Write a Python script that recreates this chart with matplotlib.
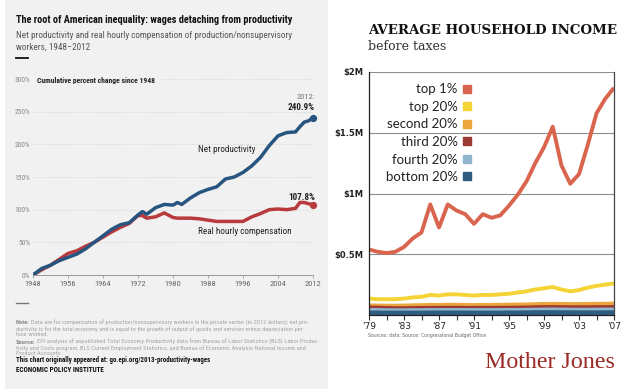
import matplotlib.pyplot as plt
from matplotlib.patches import Rectangle
from matplotlib.lines import Line2D

# ---- left chart data (EPI: cumulative % change since 1948) ----
years_l = [1948, 1950, 1952, 1954, 1956, 1958, 1960, 1962, 1964, 1966, 1968, 1970,
           1972, 1973, 1974, 1976, 1978, 1980, 1981, 1982, 1984, 1986, 1988, 1990,
           1992, 1994, 1996, 1998, 2000, 2002, 2004, 2006, 2008, 2009, 2010, 2011, 2012]
productivity = [0, 10, 15, 22, 27, 32, 40, 50, 60, 70, 77, 80,
                92, 97, 93, 103, 108, 107, 111, 108, 118, 126, 131, 135,
                147, 150, 157, 167, 180, 198, 213, 218, 219, 227, 234, 236, 240.9]
compensation = [0, 8, 15, 24, 33, 37, 44, 50, 58, 66, 73, 79,
                91, 91, 87, 89, 95, 88, 87, 87, 87, 86, 84, 82,
                82, 82, 82, 89, 94, 100, 101, 100, 102, 111, 111, 109, 107.8]
xticks_l = [1948, 1956, 1964, 1972, 1980, 1988, 1996, 2004, 2012]
yticks_l = [0, 50, 100, 150, 200, 250, 300]

# ---- right chart data (CBO: average household income, $M) ----
years_r = list(range(1979, 2008))
top1 = [0.54, 0.52, 0.51, 0.52, 0.56, 0.63, 0.68, 0.91, 0.72, 0.91, 0.86, 0.83,
        0.75, 0.83, 0.80, 0.82, 0.90, 0.99, 1.10, 1.25, 1.38, 1.55, 1.23, 1.08,
        1.16, 1.40, 1.66, 1.78, 1.87]
top20 = [0.135, 0.13, 0.13, 0.13, 0.135, 0.145, 0.15, 0.165, 0.16, 0.17, 0.17, 0.165,
         0.16, 0.165, 0.165, 0.17, 0.175, 0.185, 0.195, 0.21, 0.22, 0.23, 0.21, 0.195,
         0.205, 0.225, 0.24, 0.25, 0.26]
second20 = [0.075, 0.074, 0.073, 0.073, 0.074, 0.076, 0.077, 0.079, 0.079, 0.080, 0.080, 0.079,
            0.078, 0.079, 0.079, 0.080, 0.081, 0.082, 0.083, 0.085, 0.087, 0.088, 0.087, 0.086,
            0.086, 0.087, 0.088, 0.089, 0.090]
third20 = [0.058, 0.056, 0.054, 0.052, 0.052, 0.053, 0.054, 0.055, 0.055, 0.056, 0.056, 0.055,
           0.055, 0.055, 0.055, 0.056, 0.056, 0.057, 0.058, 0.060, 0.061, 0.062, 0.061, 0.060,
           0.060, 0.060, 0.061, 0.061, 0.062]
fourth20 = [0.038, 0.037, 0.036, 0.035, 0.035, 0.036, 0.036, 0.037, 0.037, 0.037, 0.038, 0.037,
            0.037, 0.037, 0.037, 0.037, 0.038, 0.038, 0.039, 0.040, 0.041, 0.042, 0.041, 0.040,
            0.040, 0.040, 0.041, 0.041, 0.042]
bottom20 = [0.017, 0.017, 0.016, 0.016, 0.016, 0.016, 0.016, 0.017, 0.017, 0.017, 0.017, 0.017,
            0.016, 0.016, 0.016, 0.016, 0.017, 0.017, 0.018, 0.019, 0.020, 0.020, 0.019, 0.019,
            0.018, 0.018, 0.018, 0.019, 0.019]
groups = ["top 1%", "top 20%", "second 20%", "third 20%", "fourth 20%", "bottom 20%"]
group_colors = ["#d9654f", "#f3d335", "#eba53c", "#9c3a33", "#8fb6cc", "#2f5d80"]
xticks_r = [1979, 1983, 1987, 1991, 1995, 1999, 2003, 2007]
xlabels_r = ["'79", "'83", "'87", "'91", "'95", "'99", "'03", "'07"]
yticks_r = [0.5, 1.0, 1.5, 2.0]
ylabels_r = ["$0.5M", "$1M", "$1.5M", "$2M"]

W, H = 623, 389
NARROW = ["Roboto Condensed", "Liberation Sans Narrow", "Liberation Sans"]
BLUE = "#27557f"
RED = "#b83a3c"


def fx(x):
    return x / W


def fy(y):
    return 1 - y / H


fig = plt.figure(figsize=(W / 100, H / 100), dpi=100)
renderer = fig.canvas.get_renderer()


def fit(t, width_px):
    # scale a text's font size so it spans the given width in pixels
    w = t.get_window_extent(renderer).width
    t.set_fontsize(t.get_fontsize() * width_px / w)
    return t


def after(t, gap=1.0):
    # x (figure fraction) just right of a text
    return fx(t.get_window_extent(renderer).x1 + gap)


fig.patches.append(Rectangle((fx(5), 0), fx(323), 1, transform=fig.transFigure,
                             facecolor="#f1f1f1", edgecolor="none", zorder=-5))

# ── left chart ───────────────────────────────────────────────────────────────
axl = fig.add_axes([fx(33), fy(275), fx(280), (275 - 79) / H])
axl.set_facecolor("none")
axl.plot(years_l, productivity, color=BLUE, lw=2.5, solid_capstyle="round", zorder=3)
axl.plot(years_l, compensation, color=RED, lw=2.5, solid_capstyle="round", zorder=2)
axl.plot(years_l[-1], productivity[-1], "o", color=BLUE, ms=4.2, clip_on=False, zorder=4)
axl.plot(years_l[-1], compensation[-1], "o", color=RED, ms=4.2, clip_on=False, zorder=4)
axl.set_xlim(1948, 2012)
axl.set_ylim(0, 300)
for v in yticks_l[1:-1]:
    axl.axhline(v, color="#d0d0d0", lw=0.6, ls=(0, (1, 1.5)), zorder=1)
axl.axhline(300, xmin=0.46, color="#d0d0d0", lw=0.6, ls=(0, (1, 1.5)), zorder=1)
for s in ["top", "right", "left"]:
    axl.spines[s].set_visible(False)
axl.spines["bottom"].set_color("#9a9a9a")
axl.spines["bottom"].set_linewidth(0.7)
axl.set_xticks(xticks_l)
axl.set_xticklabels([str(y) for y in xticks_l], family=NARROW, fontsize=6, color="#666666")
axl.set_yticks(yticks_l)
axl.set_yticklabels([f"{v}%" for v in yticks_l], family=NARROW, fontsize=5.4, color="#8a8a8a")
axl.tick_params(axis="x", length=2.5, width=0.6, color="#9a9a9a", pad=2)
axl.tick_params(axis="y", length=0, pad=2)

axl.text(1985.7, 192, "Net productivity", family=NARROW, fontsize=6.6, color="#222222",
         va="center")
axl.text(1985.7, 67, "Real hourly compensation", family=NARROW, fontsize=6.6, color="#222222",
         va="center")
axl.text(2012.4, 119, "107.8%", family=NARROW, fontsize=6.6, fontweight="bold",
         color="#222222", ha="right", va="center")
axl.text(2012.4, 272, "2012:", family=NARROW, fontsize=6, color="#777777",
         ha="right", va="center")
axl.text(2012.4, 256, "240.9%", family=NARROW, fontsize=6.6, fontweight="bold",
         color="#222222", ha="right", va="center")

fit(fig.text(fx(37), fy(80), "Cumulative percent change since 1948", family=NARROW,
             fontsize=5, fontweight="bold", color="#222222", va="center"), 121)
fit(fig.text(fx(16), fy(20), "The root of American inequality: wages detaching from productivity",
             family=NARROW, fontsize=8, fontweight="bold", color="#111111", va="center"), 279)
sub1 = fit(fig.text(fx(16), fy(35), "Net productivity and real hourly compensation of production/nonsupervisory",
                    family=NARROW, fontsize=7.6, color="#555555", va="center"), 271)
fig.text(fx(16), fy(47), "workers, 1948\u20132012", family=NARROW, fontsize=sub1.get_fontsize(),
         color="#555555", va="center")
fig.add_artist(Line2D([fx(16), fx(28)], [fy(58), fy(58)], color="#111111", lw=1.3))
fig.add_artist(Line2D([fx(16), fx(28)], [fy(303), fy(303)], color="#777777", lw=1))

note_lines = [
    "Data are for compensation of production/nonsupervisory workers in the private sector (in 2012 dollars); net pro-",
    "ductivity is for the total economy and is equal to the growth of output of goods and services minus depreciation per",
    "hour worked.",
]
source_lines = [
    "EPI analysis of unpublished Total Economy Productivity data from Bureau of Labor Statistics (BLS) Labor Produc-",
    "tivity and Costs program, BLS Current Employment Statistics, and Bureau of Economic Analysis National Income and",
    "Product Accounts.",
]
small = dict(family=NARROW, fontsize=3.6, va="center")
l1 = fig.text(fx(16), fy(323), "Note:", fontweight="bold", color="#8a8a8a", **small)
t1 = fig.text(after(l1, 1.5), fy(323), note_lines[0], color="#a5a5a5", **small)
fit(t1, 313 - (t1.get_window_extent(renderer).x0))
size_small = t1.get_fontsize()
l1.set_fontsize(size_small)
t1.set_x(after(l1, 1.5))
for i, line in enumerate(note_lines[1:], 1):
    fig.text(fx(16), fy(323 + 5.7 * i), line, color="#a5a5a5", **dict(small, fontsize=size_small))
l2 = fig.text(fx(16), fy(342), "Source:", fontweight="bold", color="#8a8a8a",
              **dict(small, fontsize=size_small))
fig.text(after(l2, 1.5), fy(342), source_lines[0], color="#a5a5a5",
         **dict(small, fontsize=size_small))
for i, line in enumerate(source_lines[1:], 1):
    fig.text(fx(16), fy(342 + 5.7 * i), line, color="#a5a5a5", **dict(small, fontsize=size_small))
fit(fig.text(fx(16), fy(360.5), "This chart originally appeared at: go.epi.org/2013-productivity-wages",
             family=NARROW, fontsize=4.6, fontweight="bold", color="#111111", va="center"), 192)
fit(fig.text(fx(16), fy(370.5), "ECONOMIC POLICY INSTITUTE", family=NARROW, fontsize=4.6,
             fontweight="bold", color="#111111", va="center"), 87)

# ── right chart ──────────────────────────────────────────────────────────────
axr = fig.add_axes([fx(369), fy(315), fx(245), (315 - 72) / H])
series = [top1, top20, second20, third20, fourth20, bottom20]
widths = [2.8, 2.8, 3.5, 3.5, 3.5, 3.5]
for vals, col, name, lw in zip(series, group_colors, groups, widths):
    axr.plot(years_r, vals, color=col, lw=lw, solid_capstyle="butt", label=name)
axr.set_xlim(1979, 2007)
axr.set_ylim(0, 2.0)
for v in yticks_r:
    axr.axhline(v, color="#8f8f8f", lw=0.8, zorder=0)
axr.spines["top"].set_visible(False)
axr.spines["left"].set_color("#222222")
axr.spines["bottom"].set_color("#222222")
axr.spines["right"].set_color("#444444")
for s in ["left", "bottom", "right"]:
    axr.spines[s].set_linewidth(0.9)
axr.set_xticks(xticks_r)
axr.set_xticks(range(1979, 2008, 2), minor=True)
axr.set_xticklabels(xlabels_r, fontsize=6.5, color="#222222")
axr.set_yticks(yticks_r)
axr.set_yticklabels(ylabels_r, fontsize=6, fontweight="bold", color="#222222")
axr.tick_params(axis="x", which="both", length=3.5, width=0.8, color="#333333", pad=1.5)
axr.tick_params(axis="y", length=0, pad=4)

handles = [Line2D([], [], ls="none", marker="s", ms=6, color=c) for c in group_colors]
axr.legend(handles, groups, loc="upper right", bbox_to_anchor=(0.443, 0.975), frameon=False,
           markerfirst=False, handlelength=0.8, handletextpad=0.3, labelspacing=0.42,
           borderaxespad=0, prop={"family": "Lato", "size": 9.5},
           labelcolor="#222222")

fig.text(fx(368), fy(31), "AVERAGE HOUSEHOLD INCOME", family="DejaVu Serif",
         fontsize=9.6, fontweight="bold", color="#111111", va="center")
fig.text(fx(368), fy(46), "before taxes", family="DejaVu Serif", fontsize=9,
         color="#333333", va="center")
fit(fig.text(fx(368), fy(336), "Sources: data: Source: Congressional Budget Office",
             fontsize=3.2, color="#666666", va="center"), 118)
fit(fig.text(fx(485), fy(363), "Mother Jones", family="Liberation Serif", fontsize=16,
             color="#9c2a25", va="center"), 130)

fig.savefig("out.png", dpi=100)
